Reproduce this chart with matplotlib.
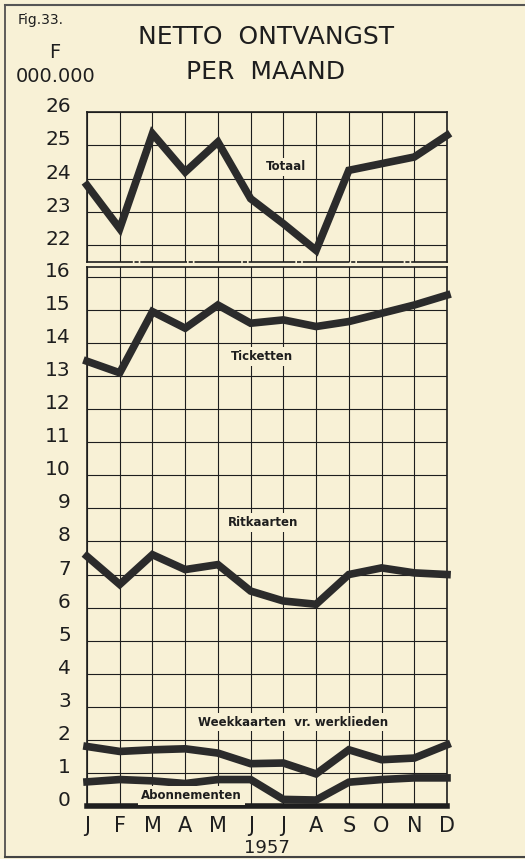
import matplotlib
matplotlib.use("Agg")
import matplotlib.pyplot as plt
from matplotlib.lines import Line2D

# ---- data ----
months = ["J", "F", "M", "A", "M", "J", "J", "A", "S", "O", "N", "D"]
totaal = [23.8, 22.5, 25.35, 24.2, 25.1, 23.4, 22.65, 21.85, 24.25, 24.45, 24.65, 25.3]
ticketten = [13.45, 13.1, 14.95, 14.45, 15.15, 14.6, 14.7, 14.5, 14.65, 14.9, 15.15, 15.45]
ritkaarten = [7.55, 6.7, 7.6, 7.15, 7.3, 6.5, 6.2, 6.1, 7.0, 7.2, 7.05, 7.0]
weekkaarten = [1.8, 1.65, 1.7, 1.73, 1.6, 1.28, 1.3, 0.97, 1.7, 1.4, 1.45, 1.85]
abonnementen = [0.73, 0.8, 0.76, 0.68, 0.8, 0.8, 0.2, 0.18, 0.72, 0.8, 0.85, 0.85]
top_ticks = [22, 23, 24, 25, 26]
bottom_ticks = list(range(0, 17))

BG = "#f8f1d6"
INK = "#1e1e1e"
LINE = "#2b2b2b"
W, H = 525, 859

fig = plt.figure(figsize=(W / 100, H / 100), dpi=100, facecolor=BG)

def box(left, top, right, bottom):
    return [left / W, 1 - bottom / H, (right - left) / W, (bottom - top) / H]

ax_top = fig.add_axes(box(87, 112, 447, 262))
ax_bot = fig.add_axes(box(87, 267, 447, 806))

x = list(range(len(months)))

for ax in (ax_top, ax_bot):
    ax.set_facecolor(BG)
    ax.set_xlim(0, 11)
    ax.set_xticks(x)
    ax.tick_params(length=0)
    for xv in x:
        ax.axvline(xv, color=INK, lw=0.8, zorder=1)
    for s in ax.spines.values():
        s.set_color(INK)
        s.set_linewidth(1.2)

ax_top.set_ylim(21.5, 26)
ax_bot.set_ylim(0, 16.3)

for yv in top_ticks:
    ax_top.axhline(yv, color=INK, lw=0.8, zorder=1)
for yv in bottom_ticks:
    ax_bot.axhline(yv, color=INK, lw=0.8, zorder=1)

ax_top.set_xticklabels([])
ax_top.set_yticks([])
ax_bot.set_yticks([])
ax_bot.set_xticklabels(months, fontsize=15, color=INK)
ax_bot.tick_params(axis="x", pad=7)

ax_top.spines["bottom"].set_linestyle((0, (27, 2, 1.5, 2)))
ax_bot.spines["bottom"].set_linewidth(4)

# y labels
for yv in top_ticks:
    ax_top.text(-0.045, yv, str(yv), transform=ax_top.get_yaxis_transform(),
                ha="right", va="baseline", fontsize=14.5, color=INK)
for yv in bottom_ticks:
    ax_bot.text(-0.045, yv, str(yv), transform=ax_bot.get_yaxis_transform(),
                ha="right", va="baseline", fontsize=14.5, color=INK)

# series
ax_top.plot(x, totaal, color=LINE, lw=5.5, solid_joinstyle="miter", zorder=3, clip_on=False)
for ser in (ticketten, ritkaarten, weekkaarten, abonnementen):
    ax_bot.plot(x, ser, color=LINE, lw=5.5, solid_joinstyle="miter", zorder=3, clip_on=False)

lbl = dict(fontsize=8.5, fontweight="bold", color=INK, ha="center", va="center", zorder=4,
           bbox=dict(boxstyle="square,pad=0.25", fc=BG, ec="none"))
ax_top.text(6.08, 24.35, "Totaal", **lbl)
ax_bot.text(5.35, 13.58, "Ticketten", **lbl)
ax_bot.text(5.38, 8.56, "Ritkaarten", **lbl)
ax_bot.text(6.3, 2.54, "Weekkaarten  vr. werklieden", **lbl)
ax_bot.text(3.2, 0.33, "Abonnementen", **lbl)

# titles and annotations
fig.text(266 / W, 1 - 37 / H, "NETTO  ONTVANGST", ha="center", va="center", fontsize=18, color=INK)
fig.text(266 / W, 1 - 72 / H, "PER  MAAND", ha="center", va="center", fontsize=18, color=INK)
fig.text(18 / W, 1 - 20 / H, "Fig.33.", ha="left", va="center", fontsize=10, color=INK)
fig.text(55 / W, 1 - 53 / H, "F", ha="center", va="center", fontsize=14, color=INK)
fig.text(56 / W, 1 - 77 / H, "000.000", ha="center", va="center", fontsize=14, color=INK)
fig.text(267 / W, 1 - 848 / H, "1957", ha="center", va="center", fontsize=13, color=INK)

# outer frame (left, top, bottom)
fig.add_artist(Line2D([5 / W, 5 / W], [1 - 5 / H, 1 - 857 / H], color="#444444", lw=1.2, transform=fig.transFigure))
fig.add_artist(Line2D([5 / W, 1], [1 - 5 / H, 1 - 5 / H], color="#555555", lw=1.5, transform=fig.transFigure))
fig.add_artist(Line2D([5 / W, 1], [1 - 857 / H, 1 - 857 / H], color="#444444", lw=1.5, transform=fig.transFigure))

fig.savefig("out.png", dpi=100, facecolor=BG)
